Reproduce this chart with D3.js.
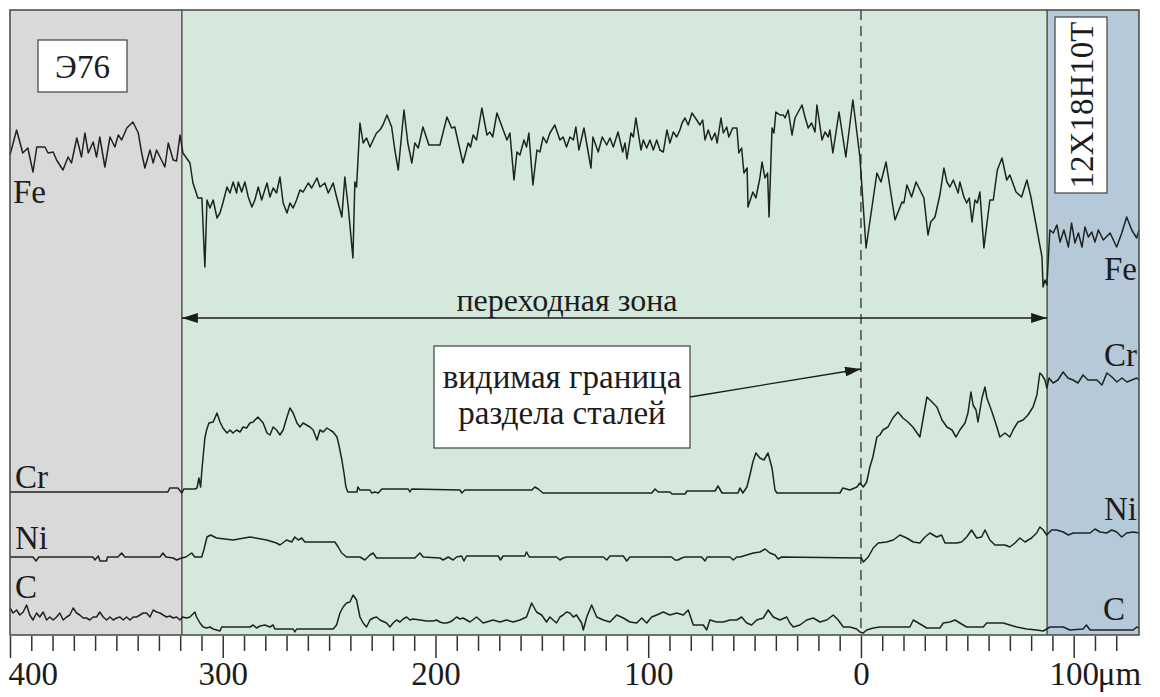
<!DOCTYPE html>
<html>
<head>
<meta charset="UTF-8">
<title>Распределение элементов в переходной зоне</title>
<script src="https://d3js.org/d3.v7.min.js"></script>
<style>
    body { margin: 0; background: #ffffff; }
    text { font-family: "Liberation Serif", "Times New Roman", serif; fill: #1c1c1c; }
</style>
</head>
<body>
<svg width="1160" height="697" id="mainsvg"></svg>
<script>
// distance from the visible boundary, um (negative = side of Э76)
// intensity values in arbitrary units
const fe = [[-400,480],[-396.9,505],[-394,482],[-391.6,487],[-389.2,463],[-387.4,488],[-383.6,488],[-382.1,482],[-379.7,483],[-378.1,475],[-375.1,465],[-372.7,478],[-371.1,472],[-368.6,497],[-366.4,478],[-364.8,502],[-363.2,482],[-360.9,493],[-359.3,478],[-357.8,498],[-355.4,468],[-353,498],[-350.7,488],[-349.1,500],[-347.5,495],[-345.1,507],[-342.2,513],[-339.7,502],[-338.1,482],[-336.6,467],[-334.2,485],[-332.7,472],[-331.1,485],[-329.5,478],[-327.2,468],[-325.6,492],[-323.3,475],[-321.7,474],[-320.1,500],[-318.7,482],[-315.4,472],[-314,452],[-311.7,437],[-309.8,437],[-308.4,368],[-307.4,435],[-306,427],[-304.5,435],[-302.7,417],[-301.3,422],[-299.8,433],[-298,448],[-296.6,442],[-295.1,453],[-293.5,442],[-292.7,453],[-291.1,443],[-289.6,453],[-288,438],[-286.3,428],[-284.9,435],[-283.3,448],[-281.7,435],[-279.2,452],[-277.8,438],[-276.3,447],[-274.7,442],[-273.1,458],[-271.6,432],[-269.8,422],[-268.4,432],[-266.9,427],[-265.3,435],[-263.7,445],[-262.2,443],[-259.8,452],[-258.2,447],[-255.7,457],[-254.3,448],[-252,452],[-250.4,442],[-248.1,452],[-246.5,438],[-244,418],[-242.6,458],[-241,428],[-238.8,377],[-237.9,453],[-237.1,448],[-235.5,512],[-234,492],[-232.4,497],[-230.8,488],[-229.3,495],[-227.7,502],[-226.1,505],[-224.7,510],[-222.8,520],[-220.6,508],[-219.1,485],[-217.5,465],[-214.8,525],[-213,492],[-211.1,472],[-209.7,492],[-208.1,487],[-205.9,508],[-203.1,490],[-197.9,490],[-194.6,518],[-192.4,507],[-190.9,508],[-187.1,472],[-184.6,492],[-183.5,488],[-182.3,500],[-180.7,495],[-178.2,527],[-175.8,500],[-174.4,503],[-173.1,498],[-171.1,522],[-166.4,495],[-165,502],[-163.1,455],[-161.7,483],[-160.3,480],[-158.4,495],[-157.2,488],[-156.1,502],[-154.2,450],[-152.3,485],[-150.9,483],[-149.4,498],[-147.8,492],[-146.2,502],[-143.9,510],[-141.5,495],[-140,498],[-138.4,488],[-136.8,498],[-135.2,495],[-134,508],[-132.6,485],[-130.2,507],[-126.9,467],[-126,498],[-123.5,483],[-121.6,498],[-119.5,490],[-118,497],[-116.4,488],[-114.2,503],[-112,483],[-110.9,492],[-110,476],[-108.1,502],[-107,498],[-105.8,517],[-103.4,485],[-102.3,495],[-100.7,487],[-99.2,495],[-97.6,485],[-96,495],[-94.5,485],[-92.9,483],[-91.2,505],[-89.8,492],[-88.2,503],[-86.6,498],[-85.1,505],[-84.1,512],[-82.7,517],[-81.2,510],[-79.4,522],[-77.2,515],[-75.7,510],[-74.4,515],[-73.3,495],[-71.8,505],[-70.2,495],[-68.6,502],[-67.6,492],[-65.8,517],[-64.7,502],[-63.1,508],[-62.1,498],[-60.3,507],[-58.3,507],[-57.4,482],[-56.1,487],[-55,462],[-53.5,467],[-53.1,428],[-50.8,443],[-49.4,437],[-47.5,457],[-46.5,473],[-45.1,457],[-43.9,462],[-43.2,418],[-41.8,507],[-40.9,502],[-40,523],[-38.1,520],[-36.5,520],[-35.7,517],[-34.2,525],[-32.4,500],[-31,517],[-29.5,523],[-27.7,530],[-26.3,518],[-24.8,507],[-23.2,512],[-21.6,503],[-20.7,530],[-18.3,495],[-16.9,503],[-15.4,498],[-14.6,505],[-13.2,482],[-10.3,523],[-7.1,478],[-3.8,535],[-0.5,478],[2.4,387],[7.5,462],[9.4,453],[11.8,473],[16,415],[19.3,433],[20.2,432],[21.6,450],[23.8,438],[25.9,453],[29.6,437],[31.5,400],[32.8,413],[34.8,418],[37.1,440],[39,467],[40.4,453],[41.8,448],[43.4,455],[45.7,442],[46.5,453],[48.4,438],[49.7,432],[50.9,437],[52.2,413],[53.6,435],[54.7,432],[55.9,443],[57.8,387],[60.6,435],[62.2,435],[64.1,465],[66.3,477],[68.5,455],[70,460],[72.9,443],[75.5,438],[78,455],[79.9,438],[85.1,378],[85.6,348],[86.5,355],[87.4,350],[88.8,405],[90.4,402],[92.1,410],[93.6,393],[95.4,405],[97.5,388],[99,412],[100.6,392],[102.2,402],[103.9,388],[105.3,408],[106.9,398],[108.5,403],[110,393],[111.6,405],[113.9,395],[117.1,402],[120.2,388],[122.6,402],[124.9,418],[127.3,405],[129.6,397],[130.7,405]];

const cr = [[-400,143],[-325.8,143],[-324.9,147],[-321.1,147],[-319.2,142],[-318.3,146],[-313.1,146],[-312.1,147],[-311.2,157],[-310.4,148],[-309.8,165],[-308.4,197],[-307.6,205],[-306.5,212],[-304.5,213],[-302.7,222],[-301.3,213],[-299.9,207],[-298,202],[-296.6,205],[-295.2,202],[-293.5,205],[-291.9,203],[-290.4,208],[-288.8,207],[-287.2,212],[-285.7,213],[-283.5,218],[-281,212],[-279.2,202],[-277.8,200],[-276.3,208],[-274.7,205],[-273.1,200],[-271.6,205],[-269.8,218],[-268.4,227],[-266.9,222],[-265.1,212],[-263.7,208],[-262.2,212],[-260.6,210],[-259,208],[-257.5,205],[-255.7,195],[-254.3,205],[-252.8,203],[-251,207],[-249.6,205],[-248.1,203],[-246.3,198],[-245.4,190],[-244,175],[-243,162],[-242.1,148],[-241.2,143],[-236.9,143],[-236.5,148],[-235.5,145],[-230.8,145],[-230,142],[-228.5,143],[-226.9,142],[-225.2,146],[-212.8,146],[-212,143],[-211.2,146],[-188.5,145],[-187.6,142],[-186.2,145],[-154.7,145],[-153.3,148],[-151.7,146],[-149.5,142],[-98.3,142],[-96.8,146],[-95.3,143],[-89.8,143],[-88.8,141],[-82.7,141],[-81.8,144],[-68.6,144],[-67.2,149],[-65.3,142],[-57.8,142],[-56.9,147],[-55.5,142],[-53.6,148],[-52.2,160],[-50.8,173],[-49.4,182],[-47.5,177],[-45.6,175],[-43.7,182],[-41.8,167],[-40.4,145],[-39.5,142],[-9.9,142],[-8.5,147],[-5.2,145],[-1.9,148],[-0.5,152],[1.1,148],[2.7,153],[4.2,168],[5.6,178],[7.5,198],[8.9,200],[10.3,205],[12.7,208],[15,217],[17.4,223],[19.7,217],[22.1,213],[24.4,208],[27.7,198],[29.1,215],[31,238],[33.4,233],[35.7,228],[38.1,215],[40.4,208],[42.8,205],[44.7,198],[46.5,205],[48.9,212],[50.3,222],[51.7,243],[52.7,230],[54.1,225],[55,213],[56.9,237],[58.3,248],[59.2,237],[61.6,223],[63.9,208],[65.3,198],[67.7,202],[70,198],[71.5,205],[73.8,213],[76.2,215],[78.5,220],[80.9,228],[82.7,240],[84.1,262],[85.1,260],[86.5,255],[87.4,247],[88.4,257],[90.3,252],[92.6,255],[95,263],[97.3,257],[99.7,255],[102,252],[104.4,260],[106.7,255],[110.9,255],[113.3,250],[115.6,262],[118,258],[120.3,253],[122.7,257],[125,253],[127.3,255],[129.6,257],[130.7,255]];

const ni = [[-400,78],[-389.2,78],[-387.8,74],[-386.4,78],[-361,78],[-360.1,75],[-358.5,79],[-357.7,74],[-354.6,74],[-354.2,78],[-349.3,78],[-347.5,82],[-346,78],[-329.5,78],[-328.1,82],[-326.7,78],[-323.3,77],[-321.7,75],[-319.3,77],[-317.3,78],[-314.6,82],[-313.1,78],[-309.9,78],[-308.9,85],[-307.4,98],[-305.7,100],[-302.9,97],[-295.1,95],[-287.2,98],[-279.4,95],[-274.7,92],[-273.1,90],[-270,95],[-267.6,93],[-266.1,98],[-264.5,95],[-262.9,97],[-261.4,93],[-247.3,93],[-245.7,88],[-244.1,82],[-241.8,78],[-235.5,78],[-233.2,75],[-230.8,80],[-229.3,82],[-227.7,77],[-209.7,77],[-207.3,82],[-205.8,78],[-197.9,77],[-196.4,75],[-194,78],[-191.7,75],[-190.1,78],[-187.7,79],[-186.6,74],[-185.4,79],[-170.5,79],[-169.4,75],[-168.2,79],[-158,79],[-157.2,83],[-155.9,78],[-143.1,78],[-141.5,75],[-140,77],[-138.4,78],[-121.1,78],[-119.5,75],[-118,79],[-111.7,79],[-110.1,74],[-108.6,78],[-89,78],[-87.4,75],[-85.9,75],[-84.3,77],[-82.7,78],[-74.9,78],[-73.3,74],[-72.3,78],[-61.6,78],[-60,75],[-58.4,78],[-56.9,78],[-53.7,80],[-50.6,82],[-47.5,83],[-45.1,86],[-42.8,82],[-40.4,80],[-38.9,76],[-37.3,78],[0.3,77],[1.1,73],[3.4,78],[5.8,87],[8.1,92],[12.1,93],[15.2,95],[18.3,100],[21.5,97],[24.6,93],[27.7,92],[30.1,98],[32.4,102],[35.6,98],[37.9,100],[39.5,92],[45,92],[47.3,93],[49.7,98],[52,105],[54.4,97],[56.7,98],[58.3,105],[60.6,95],[63,90],[67.7,90],[70,88],[72.4,92],[74.7,97],[77.1,93],[80.2,97],[82.6,102],[84.1,108],[85.7,105],[87.3,100],[89.6,105],[92,105],[95.1,103],[97.5,100],[99.8,102],[107.7,102],[110,106],[112.4,103],[115.5,102],[117.9,105],[120.2,103],[122.6,98],[124.9,102],[128,103],[130.7,102]];

const c = [[-400,27],[-398.5,22],[-396.9,25],[-395.4,20],[-393.8,23],[-392.2,30],[-390.7,20],[-389.2,15],[-387.5,22],[-386,18],[-384.4,23],[-382.8,15],[-381.3,18],[-379.7,15],[-378.1,18],[-376.6,22],[-375,15],[-373.4,18],[-371.9,20],[-370.3,27],[-368.7,22],[-367.2,20],[-365.6,17],[-364,17],[-362.5,15],[-360.9,18],[-359.3,18],[-357.8,23],[-356.2,18],[-354.6,15],[-353,18],[-351.5,15],[-349.9,17],[-348.3,18],[-346.8,15],[-345.2,18],[-343.6,15],[-342.1,18],[-340.5,18],[-338.9,20],[-337.4,22],[-335.8,22],[-334.2,18],[-332.7,25],[-331.1,23],[-329.5,22],[-328,20],[-326.4,18],[-324.8,19],[-323.3,17],[-321.7,18],[-320.1,15],[-318.9,18],[-317,17],[-315.4,18],[-313.1,23],[-312.3,18],[-310.7,12],[-309.2,8],[-307.6,7],[-306,8],[-304.5,6],[-301.3,4],[-300.5,8],[-287.2,8],[-285.7,10],[-284.1,7],[-282.5,9],[-280.2,10],[-277.8,8],[-276.3,10],[-275.5,6],[-266.9,6],[-266.1,3],[-265.3,6],[-248.1,6],[-246.5,10],[-244.9,22],[-243.4,28],[-241.8,32],[-240.2,33],[-238.7,40],[-237.1,35],[-235.5,18],[-234,12],[-232.4,8],[-230.8,15],[-229.3,17],[-227.7,18],[-226.1,15],[-223,12],[-221.4,8],[-219.9,12],[-218.3,15],[-216.7,13],[-215.2,16],[-213.6,18],[-212,15],[-210.5,16],[-207.3,15],[-204.2,14],[-201.1,14],[-199.5,15],[-197.9,13],[-196.4,12],[-194.8,12],[-193.2,13],[-191.7,15],[-190.1,18],[-188.5,16],[-187,17],[-185.4,15],[-183.8,13],[-180.7,18],[-179.1,15],[-177.6,12],[-176,13],[-172.9,15],[-169.7,13],[-166.6,15],[-163.5,13],[-160.3,15],[-157.2,18],[-154.8,32],[-152.5,23],[-150.1,20],[-147.8,13],[-146.2,18],[-144.7,15],[-143.1,12],[-141.5,18],[-140,20],[-138.4,23],[-136.8,22],[-135.2,18],[-133.7,20],[-131.3,12],[-130.5,5],[-128.9,18],[-126.6,30],[-124.2,18],[-121.1,15],[-118,13],[-114.8,20],[-111.7,17],[-108.6,13],[-105.4,12],[-103.1,17],[-100.7,12],[-98.4,18],[-96,20],[-92.9,23],[-89.8,20],[-86.6,22],[-83.5,20],[-81.2,25],[-79.6,15],[-78.8,10],[-74.1,10],[-72.5,5],[-71,15],[-67.8,13],[-64.7,13],[-61.6,15],[-58.4,15],[-56.1,18],[-53.7,12],[-51.4,10],[-49,15],[-45.9,17],[-43.6,25],[-41.2,18],[-38.1,15],[-34.9,18],[-33.4,12],[-31.8,8],[-28.7,10],[-25.5,15],[-22.4,17],[-19.3,13],[-16.1,15],[-13,20],[-10.7,15],[-8.3,8],[-5.2,8],[-2,6],[-0.5,3],[1.1,2],[2.7,5],[5.8,7],[8.9,8],[23,8],[24.6,15],[26.2,13],[28.6,10],[30.9,7],[37.1,7],[38.7,12],[41.8,13],[44.2,15],[46.5,12],[49.7,8],[57.5,8],[59.1,12],[62.2,12],[66.9,12],[70,10],[73.2,8],[77.9,6],[82.6,5],[85.7,4],[88.8,8],[95.1,8],[98.2,5],[104.4,6],[106,10],[107.7,5],[128,5],[129.6,8],[130.7,7]];

// zone boundaries, um: Э76 | transition zone | 12Х18Н10Т
const zoneBounds = [-400, -319.2, 87.5, 130.7];
const visibleBoundary = 0;
const tickValues = d3.range(-400, 121, 10);
const majorTicks = [-400, -300, -200, -100, 0, 100];

const svg = d3.select('#mainsvg');
const width = +svg.attr('width');
const height = +svg.attr('height');
const margin = {top: 10, right: 21, bottom: 62, left: 10};
const innerWidth = width - margin.left - margin.right;
const innerHeight = height - margin.top - margin.bottom;

const xScale = d3.scaleLinear().domain([-400, 130.7]).range([0, innerWidth]);
const yScale = d3.scaleLinear().domain([0, 625]).range([innerHeight, 0]);

const g = svg.append('g').attr('transform', `translate(${margin.left}, ${margin.top})`);

// background zones
const zoneColors = ['#d9d9d9', '#d5e8dc', '#b6c9d8'];
g.selectAll('.zone')
    .data(d3.pairs(zoneBounds))
    .join('rect')
    .attr('class', 'zone')
    .attr('x', d => xScale(d[0]))
    .attr('y', 0)
    .attr('width', d => xScale(d[1]) - xScale(d[0]))
    .attr('height', innerHeight)
    .attr('fill', (d, i) => zoneColors[i]);

// zone separators
g.selectAll('.sep')
    .data(zoneBounds.slice(1, 3))
    .join('line')
    .attr('class', 'sep')
    .attr('x1', d => xScale(d)).attr('x2', d => xScale(d))
    .attr('y1', 0).attr('y2', innerHeight)
    .attr('stroke', '#3a3f3a').attr('stroke-width', 1.3);

// visible boundary (dashed)
g.append('line')
    .attr('x1', xScale(visibleBoundary)).attr('x2', xScale(visibleBoundary))
    .attr('y1', 0).attr('y2', innerHeight)
    .attr('stroke', '#333').attr('stroke-width', 1.3)
    .attr('stroke-dasharray', '10,6');

// profiles
const line = d3.line()
    .x(d => xScale(d[0]))
    .y(d => yScale(d[1]));

g.selectAll('.profile')
    .data([fe, cr, ni, c])
    .join('path')
    .attr('class', 'profile')
    .attr('d', line)
    .attr('fill', 'none')
    .attr('stroke', '#1d241f')
    .attr('stroke-width', 1.5)
    .attr('stroke-linejoin', 'round');

// frame
g.append('rect')
    .attr('width', innerWidth).attr('height', innerHeight)
    .attr('fill', 'none').attr('stroke', '#4d524d').attr('stroke-width', 1.6);

// arrow markers
const defs = svg.append('defs');
defs.append('marker')
    .attr('id', 'arrow')
    .attr('viewBox', '0 0 16 10')
    .attr('refX', 16).attr('refY', 5)
    .attr('markerWidth', 16).attr('markerHeight', 10)
    .attr('markerUnits', 'userSpaceOnUse')
    .attr('orient', 'auto-start-reverse')
    .append('path')
    .attr('d', 'M0,0 L16,5 L0,10 Z')
    .attr('fill', '#1c1c1c');

// transition zone arrow
g.append('line')
    .attr('x1', xScale(zoneBounds[1])).attr('x2', xScale(zoneBounds[2]))
    .attr('y1', 308).attr('y2', 308)
    .attr('stroke', '#1c1c1c').attr('stroke-width', 1.3)
    .attr('marker-start', 'url(#arrow)')
    .attr('marker-end', 'url(#arrow)');
g.append('text')
    .attr('x', 557).attr('y', 301)
    .attr('text-anchor', 'middle')
    .style('font-size', '32px')
    .text('переходная зона');

// callout
g.append('rect')
    .attr('x', 424).attr('y', 336).attr('width', 256).attr('height', 102)
    .attr('fill', '#ffffff').attr('stroke', '#4d4d4d').attr('stroke-width', 1.3);
g.append('text')
    .attr('x', 552).attr('y', 378)
    .attr('text-anchor', 'middle')
    .style('font-size', '33px')
    .text('видимая граница');
g.append('text')
    .attr('x', 552).attr('y', 414)
    .attr('text-anchor', 'middle')
    .style('font-size', '33px')
    .text('раздела сталей');
g.append('line')
    .attr('x1', 680).attr('y1', 387)
    .attr('x2', xScale(visibleBoundary)).attr('y2', 359)
    .attr('stroke', '#1c1c1c').attr('stroke-width', 1.3)
    .attr('marker-end', 'url(#arrow)');

// steel grade boxes
g.append('rect')
    .attr('x', 28).attr('y', 30).attr('width', 89).attr('height', 52)
    .attr('fill', '#ffffff').attr('stroke', '#4d4d4d').attr('stroke-width', 1.3);
g.append('text')
    .attr('x', 72.5).attr('y', 68)
    .attr('text-anchor', 'middle')
    .style('font-size', '33px')
    .text('Э76');

g.append('rect')
    .attr('x', 1045).attr('y', 7).attr('width', 52).attr('height', 176)
    .attr('fill', '#ffffff').attr('stroke', '#4d4d4d').attr('stroke-width', 1.3);
g.append('text')
    .attr('transform', 'translate(1071, 95) rotate(-90)')
    .attr('text-anchor', 'middle')
    .attr('dy', '0.35em')
    .style('font-size', '33px')
    .text('12Х18Н10Т');

// element labels
const labelData = [
    {t: 'Fe', x: 3, y: 193, a: 'start'},
    {t: 'Fe', x: 1127, y: 270, a: 'end'},
    {t: 'Cr', x: 5, y: 478, a: 'start'},
    {t: 'Cr', x: 1127, y: 356, a: 'end'},
    {t: 'Ni', x: 5, y: 539, a: 'start'},
    {t: 'Ni', x: 1127, y: 510, a: 'end'},
    {t: 'C', x: 5, y: 588, a: 'start'},
    {t: 'C', x: 1115, y: 610, a: 'end'}
];
g.selectAll('.elabel')
    .data(labelData)
    .join('text')
    .attr('class', 'elabel')
    .attr('x', d => d.x).attr('y', d => d.y)
    .attr('text-anchor', d => d.a)
    .style('font-size', '33px')
    .text(d => d.t);

// x axis
const xAxis = d3.axisBottom(xScale)
    .tickValues(tickValues)
    .tickSize(15)
    .tickFormat(d => majorTicks.includes(d) ? Math.abs(d) : '');
const xAxisGroup = g.append('g')
    .attr('transform', `translate(0, ${innerHeight + 1})`)
    .call(xAxis);
xAxisGroup.select('.domain').remove();
xAxisGroup.selectAll('.tick line')
    .attr('stroke', '#333').attr('stroke-width', 1.5)
    .attr('y2', d => majorTicks.includes(d) ? 22 : 15);
xAxisGroup.selectAll('.tick text')
    .attr('y', 49).attr('dy', 0)
    .attr('fill', '#1c1c1c')
    .style('font-size', '33px')
    .attr('text-anchor', d => d === -400 ? 'start' : 'middle')
    .attr('x', d => d === -400 ? -2 : 0);
xAxisGroup.append('text')
    .attr('x', xScale(100) + 24).attr('y', 49)
    .attr('text-anchor', 'start')
    .attr('fill', '#1c1c1c')
    .style('font-size', '33px')
    .text('μm');
</script>
</body>
</html>
